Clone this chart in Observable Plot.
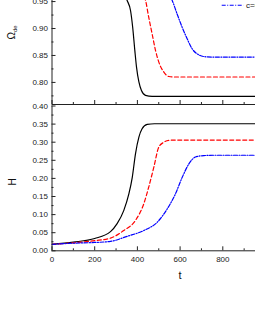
<!DOCTYPE html>
<html><head><meta charset="utf-8">
<script src="https://cdn.jsdelivr.net/npm/d3@7"></script>
<script src="https://cdn.jsdelivr.net/npm/@observablehq/plot@0.6"></script>
<style>
html,body{margin:0;padding:0;background:#fff;overflow:hidden;}
#fig{position:relative;width:255px;height:330px;overflow:hidden;font-family:"Liberation Sans",Arial,sans-serif;color:#222;}
#fig svg{position:absolute;left:0;background:transparent;max-width:none !important;}
.lab{position:absolute;white-space:nowrap;line-height:1;color:#111;}
</style></head><body><div id="fig"></div>
<script>
// ---- data ----
const tBlackOmega = [0, 200, 300, 340, 352, 368, 378, 388, 396, 407, 419, 438, 469, 600, 1000];
const omegaBlack  = [0.995, 0.99, 0.98, 0.963, 0.952, 0.933, 0.902, 0.859, 0.828, 0.801, 0.785, 0.776, 0.774, 0.774, 0.774];
const tRedOmega   = [0, 200, 350, 420, 438, 453, 469, 485, 500, 524, 547, 580, 1000];
const omegaRed    = [0.995, 0.992, 0.985, 0.964, 0.952, 0.921, 0.890, 0.859, 0.838, 0.819, 0.811, 0.810, 0.810];
const tBlueOmega  = [0, 300, 500, 545, 563, 586, 610, 633, 657, 680, 711, 750, 1000];
const omegaBlue   = [0.995, 0.993, 0.985, 0.965, 0.952, 0.927, 0.902, 0.881, 0.862, 0.853, 0.848, 0.847, 0.847];

const tBlackH = [0, 100, 200, 274, 305, 336, 360, 376, 391, 407, 422, 446, 480, 1000];
const hBlack  = [0.018, 0.024, 0.034, 0.053, 0.075, 0.111, 0.157, 0.203, 0.268, 0.314, 0.337, 0.349, 0.351, 0.351];
const tRedH   = [0, 100, 200, 274, 336, 391, 430, 453, 477, 500, 524, 547, 580, 1000];
const hRed    = [0.018, 0.022, 0.028, 0.035, 0.056, 0.084, 0.130, 0.176, 0.231, 0.286, 0.300, 0.305, 0.306, 0.306];
const tBlueH  = [0, 100, 200, 274, 352, 430, 493, 540, 578, 610, 641, 672, 711, 760, 1000];
const hBlue   = [0.018, 0.021, 0.023, 0.026, 0.040, 0.056, 0.079, 0.116, 0.157, 0.203, 0.240, 0.259, 0.263, 0.264, 0.264];

const xMajor = [0, 200, 400, 600, 800, 1000];
const xLabels = [0, 200, 400, 600, 800];
const xMinor = [100, 300, 500, 700, 900];
const omegaMajor = [0.80, 0.85, 0.90, 0.95];
const omegaMinor = [0.775, 0.825, 0.875, 0.925];
const hMajor = [0, 0.05, 0.10, 0.15, 0.20, 0.25, 0.30, 0.35, 0.40];
const hMinor = [0.025, 0.075, 0.125, 0.175, 0.225, 0.275, 0.325, 0.375];
const legendLabels = ["c=0.6"];
const yLabelTop = "Ω", yLabelTopSub = "de", yLabelBottom = "H", xLabel = "t";

const zip = (ts, vs) => ts.map((t, i) => ({t, v: vs[i]}));
const axisColor = "#222";
const fmt2 = d3.format(".2f");
const blank = () => "";

const styles = [
  {stroke: "#000", strokeDasharray: null},
  {stroke: "#ff0000", strokeDasharray: "4,2.5"},
  {stroke: "#0000ff", strokeDasharray: "4,1.5,1,1.5"}
];
function curves(sets) {
  return sets.map((d, i) => Plot.line(d, {x: "t", y: "v", stroke: styles[i].stroke,
    strokeDasharray: styles[i].strokeDasharray, strokeWidth: 1.2, curve: "monotone-x", clip: true}));
}
const common = {
  width: 270, marginLeft: 51.5, marginRight: 5,
  x: {domain: [0, 1000], range: [51.5, 265]},
  style: {fontFamily: "Liberation Sans, Arial, sans-serif", fontSize: "8px", color: axisColor, background: "transparent", maxWidth: "none"}
};

const topPanel = Plot.plot({
  ...common, height: 105, marginTop: 0, marginBottom: 1,
  y: {domain: [0.759, 0.952], range: [104, 0]},
  marks: [
    ...curves([zip(tBlackOmega, omegaBlack), zip(tRedOmega, omegaRed), zip(tBlueOmega, omegaBlue)]),
    Plot.ruleX([0], {stroke: axisColor, strokeWidth: 1}),
    Plot.ruleY([0.759], {stroke: axisColor, strokeWidth: 1}),
    Plot.axisY({ticks: omegaMajor, tickSize: 0, tickPadding: 4, tickFormat: fmt2, label: null}),
    Plot.axisY({ticks: omegaMajor, tickSize: -4, tickFormat: blank, label: null}),
    Plot.axisY({ticks: omegaMinor, tickSize: -2, tickFormat: blank, label: null}),
    Plot.axisX({ticks: xMajor, tickSize: -4, tickFormat: blank, label: null}),
    Plot.axisX({ticks: xMinor, tickSize: -2, tickFormat: blank, label: null})
  ]
});
topPanel.style.top = "0px";

const bottomPanel = Plot.plot({
  ...common, height: 240, marginTop: 15.5, marginBottom: 79.7,
  y: {domain: [0, 0.40], range: [160.3, 15.5]},
  marks: [
    ...curves([zip(tBlackH, hBlack), zip(tRedH, hRed), zip(tBlueH, hBlue)]),
    Plot.ruleX([0], {stroke: axisColor, strokeWidth: 1}),
    Plot.ruleY([0], {stroke: axisColor, strokeWidth: 1}),
    Plot.axisY({ticks: hMajor, tickSize: 0, tickPadding: 4, tickFormat: fmt2, label: null}),
    Plot.axisY({ticks: hMajor, tickSize: -4, tickFormat: blank, label: null}),
    Plot.axisY({ticks: hMinor, tickSize: -2, tickFormat: blank, label: null}),
    Plot.axisX({ticks: xLabels, tickSize: 0, tickPadding: 6, tickFormat: d3.format("d"), label: null}),
    Plot.axisX({ticks: xMajor, tickSize: -4, tickFormat: blank, label: null}),
    Plot.axisX({ticks: xMinor, tickSize: -2, tickFormat: blank, label: null})
  ]
});
bottomPanel.style.top = "90px";

const fig = document.getElementById("fig");
fig.appendChild(topPanel);
fig.appendChild(bottomPanel);

// axis titles
function addLabel(html, cx, cy, size, rotate) {
  const d = document.createElement("div");
  d.className = "lab";
  d.innerHTML = html;
  d.style.fontSize = size + "px";
  fig.appendChild(d);
  const w = d.offsetWidth, h = d.offsetHeight;
  d.style.left = (cx - w / 2) + "px";
  d.style.top = (cy - h / 2) + "px";
  if (rotate) d.style.transform = "rotate(-90deg)";
}
addLabel(`${yLabelTop}<sub style="font-size:6px;vertical-align:-2px">${yLabelTopSub}</sub>`, 12, 32, 10, true);
addLabel(yLabelBottom, 12.5, 182, 10, true);
addLabel(xLabel, 180, 275.5, 11, false);

// legend (only the visible entry)
const leg = document.createElementNS("http://www.w3.org/2000/svg", "svg");
leg.setAttribute("width", 60); leg.setAttribute("height", 12);
leg.style.left = "218px"; leg.style.top = "0px";
leg.innerHTML = `<line x1="3.7" x2="25.3" y1="5.3" y2="5.3" stroke="${styles[2].stroke}" stroke-width="1.1" stroke-dasharray="${styles[2].strokeDasharray}"/>
<text x="28" y="5.3" dy="0.35em" font-size="8" fill="#111" font-family="Liberation Sans, Arial, sans-serif">${legendLabels[0]}</text>`;
fig.appendChild(leg);
</script>
</body></html>
